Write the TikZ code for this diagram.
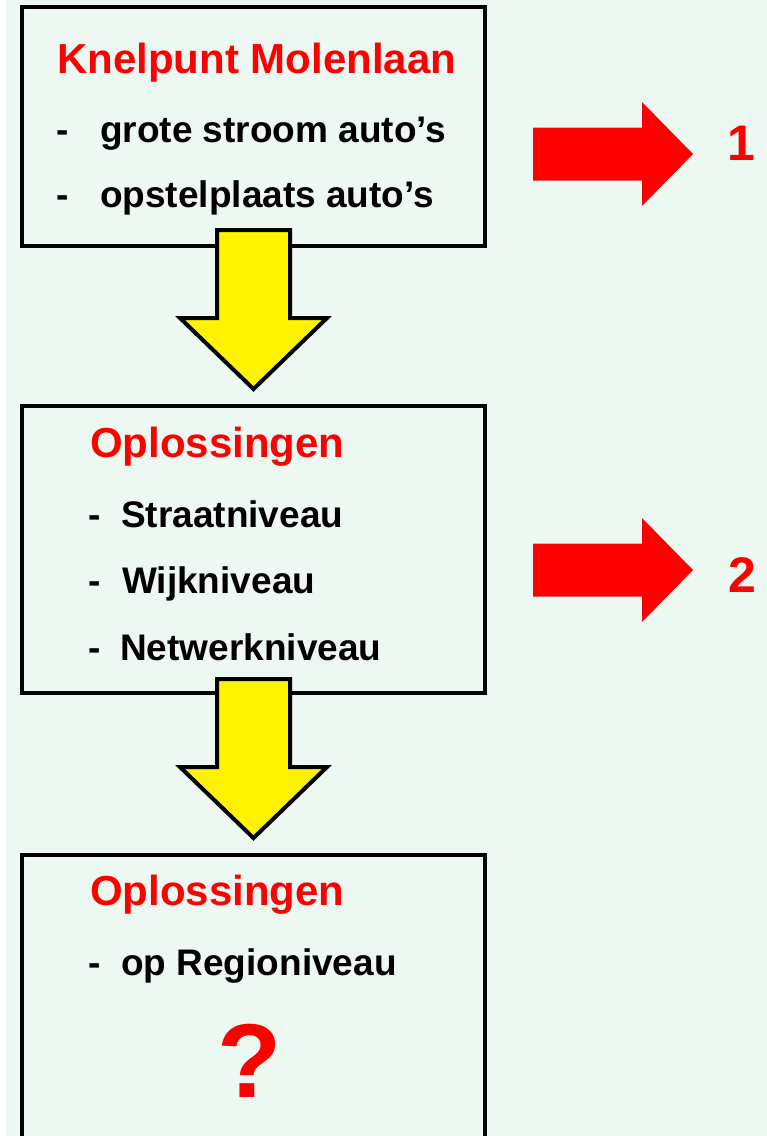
\documentclass[tikz,border=0pt]{standalone}
\usepackage{fontspec}
\setmainfont{Liberation Sans}
\definecolor{bgcol}{RGB}{238,248,242}
\begin{document}
\begin{tikzpicture}[x=1pt,y=-1pt,
    box/.style={draw=black,line width=4pt,minimum width=463pt,outer sep=0pt,inner sep=0pt,anchor=north west},
    head/.style={font=\bfseries\fontsize{42}{50}\selectfont,text=red,anchor=base west,inner sep=0pt},
    item/.style={font=\bfseries\fontsize{37}{44}\selectfont,anchor=base west,inner sep=0pt},
    downarrow/.style={draw=black,fill=yellow,line width=4pt,line join=miter},
    rightarrow/.style={fill=red},
    number/.style={font=\bfseries\fontsize{50}{60}\selectfont,text=red,anchor=base,inner sep=0pt}]

    % Page
    \clip (0,0) rectangle (767,1136);
    \fill[white] (0,0) rectangle (767,1136);
    \fill[bgcol] (6,0) rectangle (767,1136);

    % Boxes
    \node[box,minimum height=239pt] (knelpunt)  at (22,7)   {};
    \node[box,minimum height=287pt] (oplossing) at (22,406) {};
    \node[box,minimum height=320pt] (regio)     at (22,855) {};

    % Texts
        % box 1
        \node[head] (title1) at (57,73)   {Knelpunt Molenlaan};
        \node[item] (dash11) at (56.5,142) {-};
        \node[item] (item11) at (100,142) {grote stroom auto’s};
        \node[item] (dash12) at (56.5,207) {-};
        \node[item] (item12) at (100,207) {opstelplaats auto’s};

        % box 2
        \node[head] (title2) at (90,457)  {Oplossingen};
        \node[item] (dash21) at (88.5,527) {-};
        \node[item] (item21) at (121,527) {Straatniveau};
        \node[item] (dash22) at (88.5,593) {-};
        \node[item] (item22) at (122,593) {Wijkniveau};
        \node[item] (dash23) at (88.5,660) {-};
        \node[item] (item23) at (120,660) {Netwerkniveau};

        % box 3
        \node[head] (title3) at (90,905)  {Oplossingen};
        \node[item] (dash31) at (88.5,975) {-};
        \node[item] (item31) at (121,975) {op Regioniveau};
        \node[number,font=\bfseries\fontsize{105}{120}\selectfont] (vraag) at (250,1097) {?};

    % Yellow arrows
    \draw[downarrow] (knelpunt.south) ++(-36.5,-16) -- ++(73,0) -- ++(0,88) -- ++(37,0)
        -- ++(-73.5,71) -- ++(-73.5,-71) -- ++(37,0) -- cycle;
    \draw[downarrow] (oplossing.south) ++(-36.5,-14) -- ++(73,0) -- ++(0,88) -- ++(37,0)
        -- ++(-73.5,71) -- ++(-73.5,-71) -- ++(37,0) -- cycle;

    % Red arrows
    \foreach \c in {154,570}
        \fill[rightarrow] (533,\c-26.5) -- (642,\c-26.5) -- (642,\c-52) -- (693,\c)
            -- (642,\c+52) -- (642,\c+26.5) -- (533,\c+26.5) -- cycle;
    \node[number] (num1) at (741,160)   {1};
    \node[number] (num2) at (742.5,592) {2};
\end{tikzpicture}
\end{document}
